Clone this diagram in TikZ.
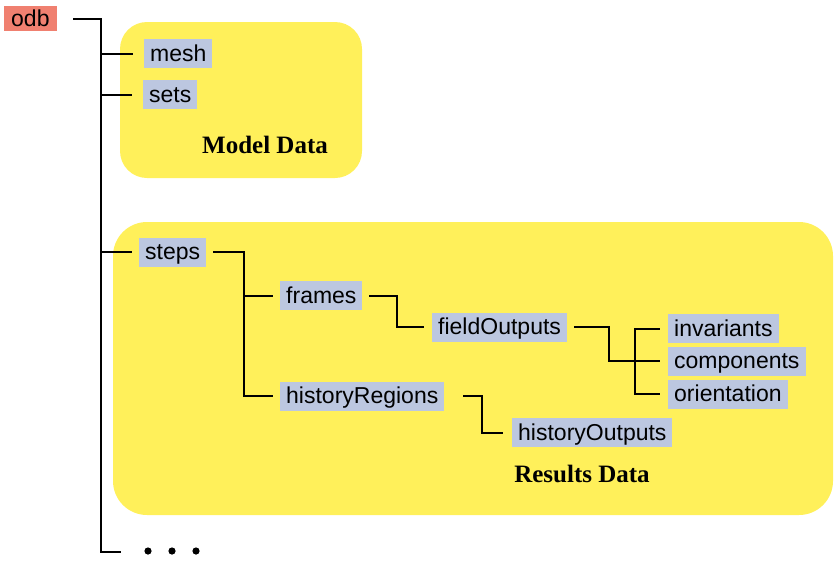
\documentclass[tikz,border=0pt]{standalone}
\usepackage{fontspec}
\setmainfont{Liberation Sans}
\newfontfamily\labelserif{Liberation Serif}
\definecolor{boxblue}{RGB}{188,199,224}
\definecolor{areayellow}{RGB}{255,240,90}
\definecolor{rootsalmon}{RGB}{240,128,112}
\begin{document}
\begin{tikzpicture}[x=1pt,y=-1pt,
  item/.style={fill=boxblue, anchor=west, inner xsep=6pt, inner ysep=4pt,
    text height=18pt, text depth=3pt, font=\fontsize{23}{27}\selectfont},
  area/.style={fill=areayellow},
  arealabel/.style={anchor=base, font=\labelserif\bfseries\fontsize{25}{29}\selectfont},
  conn/.style={line width=2pt, line cap=rect}]
\useasboundingbox (0,0) rectangle (837,562);
% background areas
\fill[area, rounded corners=27pt] (120,22) rectangle (362,178);
\fill[area, rounded corners=34pt] (113,222) rectangle (833,515);
\node[arealabel] (modellbl) at (265,153) {Model Data};
\node[arealabel] (resultslbl) at (582,482) {Results Data};
% nodes
\node[fill=rootsalmon, anchor=west, inner xsep=7pt, inner ysep=2pt, text height=18pt, text depth=3pt,
  font=\fontsize{23}{27}\selectfont] (odb) at (4,18.5) {odb};
\node[item] (mesh) at (144,53.5) {mesh};
\node[item] (sets) at (143,94.5) {sets};
\node[item] (steps) at (139,252) {steps};
\node[item] (frames) at (280,295.5) {frames};
\node[item] (hr) at (280,396) {historyRegions};
\node[item] (fo) at (432,327) {fieldOutputs};
\node[item] (inv) at (668,328.5) {invariants};
\node[item] (comp) at (668,361) {components};
\node[item] (ori) at (668,394) {orientation};
\node[item] (ho) at (512,432.5) {historyOutputs};
% dots
\coordinate (dotsend) at (120,552);
\fill (148,551) circle (3.6pt) (172,551) circle (3.6pt) (196,551) circle (3.6pt);
% junction columns
\coordinate (ja) at (101,0);
\coordinate (jb) at (244,0);
\coordinate (jc) at (397,0);
\coordinate (jd) at (609,0);
\coordinate (je) at (635,0);
\coordinate (jf) at (482,0);
% connectors
\draw[conn] ([xshift=17pt]odb.east) -| (ja |- dotsend) -- (dotsend);
\draw[conn] (ja |- mesh) -- ([xshift=-12pt]mesh.west);
\draw[conn] (ja |- sets) -- ([xshift=-12pt]sets.west);
\draw[conn] (ja |- steps) -- ([xshift=-8pt]steps.west);
\draw[conn] ([xshift=8pt]steps.east) -| (jb |- hr) -- ([xshift=-8pt]hr.west);
\draw[conn] (jb |- frames) -- ([xshift=-8pt]frames.west);
\draw[conn] ([xshift=7pt]frames.east) -| (jc |- fo) -- ([xshift=-9pt]fo.west);
\draw[conn] ([xshift=8pt]fo.east) -| (jd |- comp) -- ([xshift=-9pt]comp.west);
\draw[conn] (je |- inv) -- ([xshift=-9pt]inv.west);
\draw[conn] (je |- inv) -- (je |- ori) -- ([xshift=-9pt]ori.west);
\draw[conn] ([xshift=19pt]hr.east) -| (jf |- ho) -- ([xshift=-10pt]ho.west);
\end{tikzpicture}
\end{document}
